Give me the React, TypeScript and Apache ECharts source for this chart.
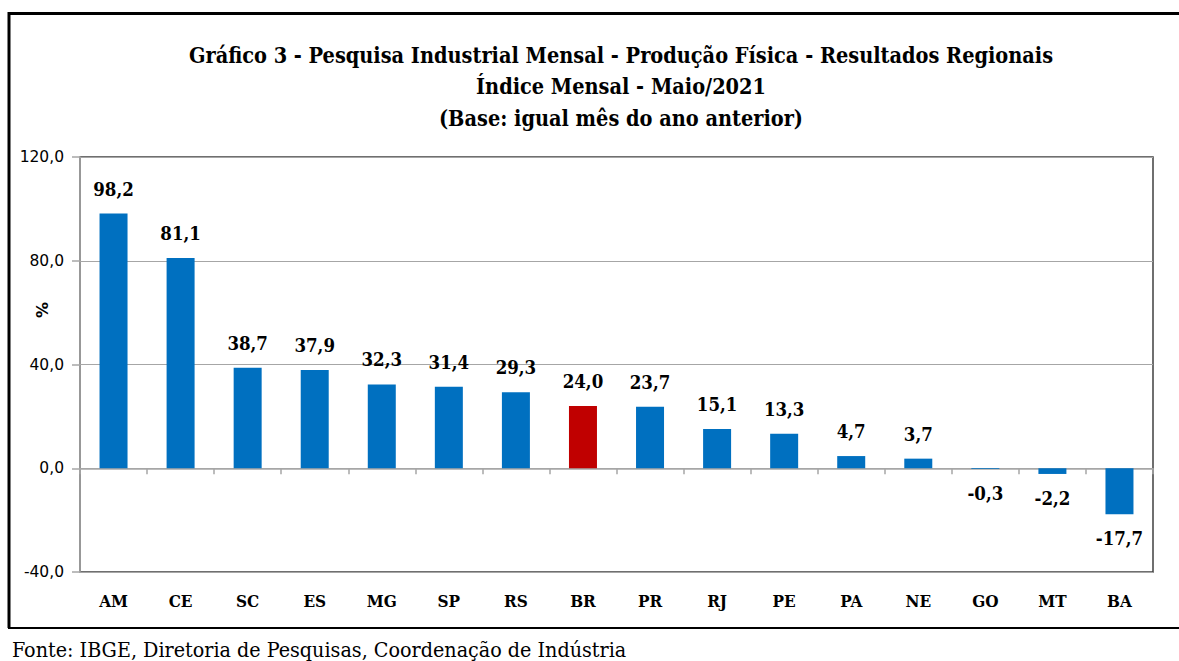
import React, { useEffect, useRef } from "react";
import * as echarts from "echarts";

const categories = ["AM", "CE", "SC", "ES", "MG", "SP", "RS", "BR", "PR", "RJ", "PE", "PA", "NE", "GO", "MT", "BA"];
const values = [98.2, 81.1, 38.7, 37.9, 32.3, 31.4, 29.3, 24.0, 23.7, 15.1, 13.3, 4.7, 3.7, -0.3, -2.2, -17.7];
const highlight = "BR";
const titleLines = [
  "Gráfico 3 - Pesquisa Industrial Mensal - Produção Física - Resultados Regionais",
  "Índice Mensal - Maio/2021",
  "(Base: igual mês do ano anterior)",
];
const footer = "Fonte: IBGE, Diretoria de Pesquisas, Coordenação de Indústria";

const SERIF = "'DejaVu Serif Condensed', 'DejaVu Serif', serif";
const fmt = (v: number) => v.toFixed(1).replace(".", ",");

export default function App() {
  const ref = useRef<HTMLDivElement>(null);
  useEffect(() => {
    if (!ref.current) return;
    const chart = echarts.init(ref.current, undefined, { renderer: "svg" });
    chart.setOption({
      animation: false,
      backgroundColor: "#ffffff",
      grid: { left: 80, top: 157, right: 26, bottom: 89, show: true, borderColor: "#404040", borderWidth: 1.5 },
      graphic: [
        { type: "line", shape: { x1: 8, y1: 13.5, x2: 1179, y2: 13.5 }, style: { stroke: "#000", lineWidth: 3 } },
        { type: "line", shape: { x1: 9, y1: 12, x2: 9, y2: 628 }, style: { stroke: "#000", lineWidth: 3 } },
        { type: "line", shape: { x1: 8, y1: 628, x2: 1179, y2: 628 }, style: { stroke: "#000", lineWidth: 2 } },
        ...titleLines.map((t, i) => ({
          type: "text",
          x: 621,
          y: [55, 86, 118][i],
          style: { text: t, fill: "#000", font: `bold 21.5px ${SERIF}`, align: "center", verticalAlign: "middle" },
        })),
        {
          type: "text",
          x: 42,
          y: 310,
          rotation: Math.PI / 2,
          style: { text: "%", fill: "#000", font: `bold 16px 'DejaVu Sans', sans-serif`, align: "center", verticalAlign: "middle" },
        },
        {
          type: "text",
          x: 12,
          y: 649,
          style: { text: footer, fill: "#000", font: `21.3px ${SERIF}`, align: "left", verticalAlign: "middle" },
        },
      ],
      xAxis: [
        {
          type: "category",
          data: categories,
          axisLine: { onZero: true, lineStyle: { color: "#A6A6A6", width: 1.5 } },
          axisTick: { show: true, length: 6, lineStyle: { color: "#A6A6A6", width: 1.5 } },
          axisLabel: { show: false },
        },
        {
          type: "category",
          data: categories,
          position: "bottom",
          axisLine: { show: false },
          axisTick: { show: false },
          axisLabel: { show: true, color: "#000", fontFamily: SERIF, fontWeight: "bold", fontSize: 17, margin: 20 },
        },
      ],
      yAxis: {
        type: "value",
        min: -40,
        max: 120,
        interval: 40,
        axisLine: { show: true, lineStyle: { color: "#A6A6A6", width: 1.5 } },
        axisTick: { show: true, length: 8, lineStyle: { color: "#A6A6A6", width: 1.5 } },
        axisLabel: { color: "#000", fontFamily: "'DejaVu Sans', sans-serif", fontSize: 15.5, margin: 16, formatter: (v: number) => fmt(v) },
        splitLine: { show: true, lineStyle: { color: "#A6A6A6", width: 1 } },
      },
      series: [
        {
          type: "bar",
          xAxisIndex: 0,
          barWidth: 28,
          data: values.map((v, i) => ({
            value: v,
            itemStyle: { color: categories[i] === highlight ? "#C00000" : "#0070C0" },
            label: { position: v < 0 ? "bottom" : "top" },
          })),
          label: {
            show: true,
            distance: 15,
            color: "#000",
            fontFamily: SERIF,
            fontWeight: "bold",
            fontSize: 18.5,
            formatter: (p: any) => fmt(p.value),
          },
        },
      ],
    });
    return () => chart.dispose();
  }, []);
  return <div ref={ref} style={{ position: "fixed", left: 0, top: 0, width: 1179, height: 661 }} />;
}
